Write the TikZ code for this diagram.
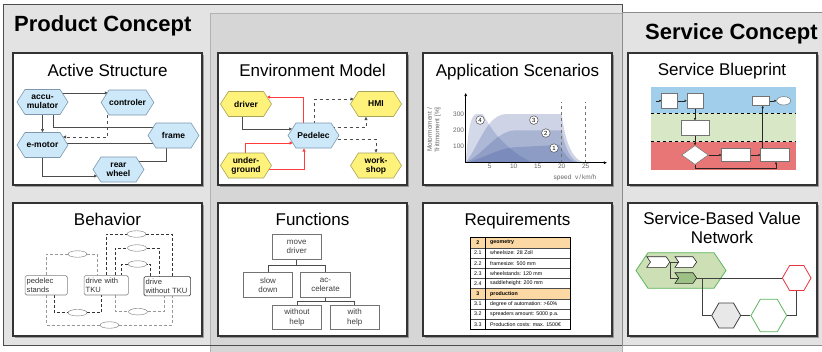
\documentclass[tikz,border=0pt]{standalone}
\usepackage{fontspec}
\setmainfont{Liberation Sans}
\usetikzlibrary{arrows.meta,calc,shapes.symbols,shapes.geometric,shadows}

\pgfdeclarelayer{background}
\pgfdeclarelayer{links}
\pgfsetlayers{background,links,main}

\newcommand{\fsz}[2]{\fontsize{#1}{#2}\selectfont}

\definecolor{panelgray}{HTML}{E3E3E3}
\definecolor{midgray}{HTML}{D6D6D6}
\definecolor{hexblue}{HTML}{CDE8F8}
\definecolor{hexblueline}{HTML}{7D98AE}
\definecolor{hexyellow}{HTML}{FFF27A}
\definecolor{hexyellowline}{HTML}{A6A45A}
\definecolor{linkred}{HTML}{FF3B3B}
\definecolor{bandblue}{HTML}{A0CEEB}
\definecolor{bandgreen}{HTML}{D8E7C6}
\definecolor{bandred}{HTML}{E87676}
\definecolor{scenblue}{HTML}{3C559E}
\definecolor{reqorange}{HTML}{FCD9A4}
\definecolor{netgreen}{HTML}{5DB65D}
\definecolor{netfill}{HTML}{CDE0B5}
\definecolor{netdark}{HTML}{9DC184}
\definecolor{netred}{HTML}{E8343F}

\tikzset{
  card/.style={draw=black!80, fill=white, line width=1.1pt,
    drop shadow={shadow xshift=1.5pt, shadow yshift=-1.5pt, opacity=.4, fill=black!80}},
  cardtitle/.style={anchor=base, inner sep=0pt, font=\fsz{17}{20}},
  hexa/.style={signal, signal to=east and west, signal pointer angle=115,
    minimum width=51pt, minimum height=25pt, inner sep=0pt, line width=.6pt,
    align=center, font=\bfseries\fsz{8.5}{9}},
  hexb/.style={hexa, fill=hexblue, draw=hexblueline},
  hexy/.style={hexa, fill=hexyellow, draw=hexyellowline},
  link/.style={draw=black!70, line width=.55pt},
  redlink/.style={draw=linkred, line width=.7pt},
  tohead/.style={-{Triangle[length=3.2pt, width=3pt]}},
  scenno/.style={circle, draw=black!70, fill=white, line width=.5pt, inner sep=0pt,
    minimum size=8.6pt, font=\fsz{6}{6}},
  ticklabel/.style={font=\fsz{6.5}{7}, text=black!60, inner sep=1.5pt},
  bpbox/.style={draw=black!55, fill=white, line width=.5pt, inner sep=0pt},
  bparrow/.style={draw=black!85, line width=.45pt, -{Triangle[length=2.2pt, width=2.2pt]}},
  bstate/.style={draw=black!50, fill=white, rounded corners=1.5pt, line width=.6pt,
    align=left, inner xsep=1.6pt, inner ysep=1pt, minimum height=19.3pt,
    font=\fsz{7.6}{8.8}, text=black!80},
  guard/.style={ellipse, draw=black!55, fill=white, line width=.4pt, inner sep=0pt,
    minimum width=19pt, minimum height=6.5pt},
  trans/.style={dash pattern=on 3pt off 2pt, line width=.6pt},
  fbox/.style={draw=black!55, fill=white, line width=.6pt, inner sep=0pt,
    minimum width=49.5pt, minimum height=24.5pt, align=center,
    font=\fsz{8}{9.5}, text=black!75},
  reqcell/.style={inner sep=0pt, font=\fsz{5.3}{6}},
  nethex/.style={signal, signal to=east and west, signal pointer angle=120,
    inner sep=0pt, line width=.8pt},
  chevron/.style={signal, signal to=east, signal from=west, signal pointer angle=110,
    draw=black!85, line width=.6pt, inner sep=0pt, minimum width=23pt, minimum height=10.6pt},
  netlink/.style={draw=black!75, line width=.7pt}
}

\begin{document}
\begin{tikzpicture}[x=1pt,y=-1pt]
\useasboundingbox (0,0) rectangle (822,351);

\begin{pgfonlayer}{background}
% concept panels
\fill[panelgray] (3.5,4) rectangle (622,345);
\draw[fill=midgray, draw=black!30, line width=.6pt] (210,13) rectangle (622,353);
\draw[black!70, line width=.8pt] (3.5,4) rectangle (622,345);
\draw[fill=panelgray, draw=black!45, line width=.6pt] (622,12) rectangle (824,345);
% white cards
\foreach \cx in {13,218,423,628}{
  \draw[card] (\cx,53) rectangle ++(189,132);
  \draw[card] (\cx,203) rectangle ++(189,133);
}
% blueprint lanes
\fill[bandblue] (650.7,87.3) rectangle (795.7,113.3);
\fill[bandgreen] (650.7,113.3) rectangle (795.7,141.7);
\fill[bandred] (650.7,141.7) rectangle (795.7,170);
\draw[dashed, line width=.6pt] (650.7,113.3) -- (795.7,113.3);
\draw[dashed, line width=.6pt] (650.7,141.7) -- (795.7,141.7);
% value network cluster
\node[nethex, fill=netfill, draw=netgreen, signal pointer angle=112,
  minimum width=90pt, minimum height=35.6pt] (vn) at (681,270.5) {};
\end{pgfonlayer}

\node[anchor=base west, inner sep=0pt, font=\bfseries\fsz{22}{26}] (product) at (14,31) {Product Concept};
\node[anchor=base west, inner sep=0pt, font=\bfseries\fsz{22}{26}] (service) at (645,39) {Service Concept};

\node[cardtitle] (as-title) at (107.5,76) {Active Structure};
\node[cardtitle] (em-title) at (312.5,76) {Environment Model};
\node[cardtitle] (sc-title) at (517.5,76) {Application Scenarios};
\node[cardtitle] (bp-title) at (722,75) {Service Blueprint};
\node[cardtitle] (bh-title) at (107.5,225) {Behavior};
\node[cardtitle] (fn-title) at (312.5,225) {Functions};
\node[cardtitle] (rq-title) at (517.5,225) {Requirements};
\node[cardtitle] (vn-title-a) at (722,224) {Service-Based Value};
\node[cardtitle] (vn-title-b) at (722,243) {Network};

% active structure
\node[hexb] (accu) at (42.5,102) {accu-\\mulator};
\node[hexb] (ctrl) at (127.5,102.5) {controler};
\node[hexb] (emotor) at (42.5,145) {e-motor};
\node[hexb] (frame) at (173.5,135.5) {frame};
\node[hexb] (rear) at (118.5,169.5) {rear\\wheel};

% environment model
\node[hexy] (driver) at (246,104) {driver};
\node[hexy] (hmi) at (376,104) {HMI};
\node[hexb] (pedelec) at (313.5,135.5) {Pedelec};
\node[hexy] (ground) at (246,165.5) {under-\\ground};
\node[hexy] (shop) at (376,165.5) {work-\\shop};

\begin{pgfonlayer}{links}
\draw[link,tohead] ($(accu)+(0,-9)$) -- ($(ctrl)+(-19.5,-9.5)$);
\draw[link,tohead] (accu.south) -- (emotor.north);
\draw[link] ($(accu)+(10.5,0)$) |- ($(frame)+(0,-8.5)$);
\draw[link,dashed,tohead] ($(ctrl)+(-20.5,0)$) |- ($(emotor)+(20.4,-8)$);
\draw[link] ($(emotor)+(0,-2)$) -- ($(frame)+(0,7.5)$);
\draw[link,tohead] (emotor.south) |- ($(rear)+(-21.3,6.5)$);
\draw[link] ($(frame)+(-7.5,0)$) |- ($(rear)+(0,-8.5)$);

\draw[redlink,tohead] ($(pedelec)+(-10.5,0)$) |- ($(driver)+(21,-7)$);
\draw[link,tohead] ($(driver)+(-4,0)$) |- ($(pedelec)+(-21.3,-6.5)$);
\draw[link,dashed,tohead] ($(pedelec)+(0.5,0)$) |- ($(hmi)+(-22.3,-5)$);
\draw[link,dashed,tohead] ($(pedelec)+(0,-8.5)$) -| ($(hmi.south)+(-10,0)$);
\draw[redlink,tohead] ($(ground)+(-1,0)$) |- ($(pedelec)+(-20.7,7.5)$);
\draw[redlink,tohead] ($(ground)+(0,3.5)$) -| ($(pedelec.south)+(-9.5,0)$);
\draw[link,dashed,tohead] ($(pedelec)+(0,3.5)$) -| (shop.north);
\end{pgfonlayer}

% application scenarios
\begin{scope}[shift={(465.7,162.7)}, x=4.8pt, y=.162pt]
  \fill[scenblue, fill opacity=.25] (0,0) .. controls (3,120) and (4.5,300) .. (8.5,300)
    -- (20,300) .. controls (20.6,150) and (22,10) .. (25,0) -- cycle;
  \fill[scenblue, fill opacity=.25] (0,0) .. controls (4,60) and (6.5,200) .. (10.5,200)
    -- (20,200) .. controls (20.6,100) and (21.8,5) .. (24,0) -- cycle;
  \fill[scenblue, fill opacity=.25] (0,0) .. controls (4,30) and (7,90) .. (10,95)
    -- (19.5,110) .. controls (20.6,60) and (21.5,3) .. (23.4,0) -- cycle;
  \fill[scenblue, fill opacity=.22] (0,0) .. controls (.6,240) and (1.2,300) .. (2.3,300)
    -- (3.6,300) .. controls (5,220) and (8,80) .. (14,0) -- cycle;
  \draw[black!55, dashed, line width=.6pt] (20,0) -- (20,375);
  \draw[black!55, dashed, line width=.6pt] (25,0) -- (25,375);
  \draw[line width=.6pt, -{Triangle[length=3pt, width=2.6pt]}] (0,0) -- (29.4,0);
  \draw[line width=.6pt, -{Triangle[length=3pt, width=2.6pt]}] (0,0) -- (0,430);
  \foreach \v in {5,10,15,20,25}
    \node[ticklabel, anchor=north] (x\v) at (\v,0) {\v};
  \foreach \v in {100,200,300}
    \node[ticklabel, anchor=east] (y\v) at (0,\v) {\v};
  \foreach \n/\px/\py in {4/3/263, 3/14.2/263, 2/16.7/183, 1/18.4/90}
    \node[scenno] (sc\n) at (\px,\py) {\n};
\end{scope}
\node[rotate=90, align=center, font=\fsz{6.5}{7.5}, text=black!60] (ylab) at (434,130) {Motormoment /\\Trittmoment [\%]};
\node[font=\fsz{6.5}{7}, text=black!60] (xlab) at (575,178) {speed\ \ v\,/\,km/h};

% service blueprint
\node[bpbox, minimum width=15.6pt, minimum height=15pt] (bp1) at (669.5,100.8) {};
\node[bpbox, minimum width=16pt, minimum height=15pt] (bp2) at (695,100.8) {};
\node[bpbox, minimum width=17pt, minimum height=9.5pt] (bp3) at (760.8,100.8) {};
\node[bpbox, ellipse, minimum width=14pt, minimum height=8.4pt] (bpend) at (783.7,100.8) {};
\node[bpbox, minimum width=28.3pt, minimum height=14.3pt] (bp4) at (695,127.8) {};
\node[bpbox, diamond, minimum width=26.6pt, minimum height=19pt] (bpdec) at (695,155) {};
\node[bpbox, minimum width=29pt, minimum height=13.4pt] (bp5) at (736.2,155) {};
\node[bpbox, minimum width=28.6pt, minimum height=13.4pt] (bp6) at (775,155) {};
\coordinate (bpstart) at (656,100.8);
\begin{pgfonlayer}{links}
\draw[bparrow] (bpstart) -- (bp1);
\draw[bparrow] (bp1) -- (bp2);
\draw[bparrow] (bp2) -- (bp4);
\draw[bparrow] (bp4) -- (bpdec);
\draw[bparrow] (bpdec) -- (bp5);
\draw[bparrow] (bp5) -- (bp6);
\draw[bparrow] ($(bp6.north)+(-12.3,0)$) coordinate (bpup) -- (bpup |- bp3.south);
\draw[bparrow] (bp3) -- (bpend);
\draw[bparrow] (bpdec.south) -- ++(0,3) -| ($(bp6.south)+(1,0)$);
\end{pgfonlayer}

% behavior
\node[bstate, text width=39pt] (stand) at (46.2,285.3) {pedelec\\stands};
\node[bstate, text width=41pt] (withtku) at (106.2,285.3) {drive with\\TKU};
\node[bstate, text width=43.5pt, draw=black!80] (notku) at (167.3,286.2) {drive\\without TKU};
\node[guard] (g1) at (77.5,254) {};
\node[guard] (g2) at (136.5,234) {};
\node[guard] (g3) at (137,248) {};
\node[guard] (g4) at (137.5,264) {};
\node[guard] (g5) at (77.5,312.7) {};
\node[guard] (g6) at (109.5,325) {};
\node[guard] (g7) at (138,311.7) {};
\begin{pgfonlayer}{links}
\draw[trans, black!40] ($(stand.north)+(0.5,0)$) |- (g1) -| ($(withtku.north)+(-8.5,0)$);
\draw[trans, black!80] (withtku.north) |- (g2) -| ($(notku.north)+(5,0)$);
\draw[trans, black!80] ($(withtku.north)+(9,0)$) |- (g3) -| ($(notku.north)+(-8.3,0)$);
\draw[trans, black!80] ($(notku.north)+(-17.3,0)$) |- (g4) -| ($(withtku.north)+(15.5,0)$);
\draw[trans, black!80] ($(stand.south)+(7.8,0)$) |- (g5) -| ($(withtku.south)+(-4.5,0)$);
\draw[trans, black!40] ($(stand.south)+(0.5,0)$) |- (g6) -| ($(notku.south)+(5,0)$);
\draw[trans, black!40] ($(withtku.south)+(9,0)$) |- (g7) -| ($(notku.south)+(-3.3,0)$);
\end{pgfonlayer}

% functions
\node[fbox] (move) at (296.7,247) {move\\driver};
\node[fbox] (slow) at (268,285) {slow\\down};
\node[fbox] (accel) at (325.5,285) {ac-\\celerate};
\node[fbox] (nohelp) at (297,317.2) {without\\help};
\node[fbox] (help) at (354.7,317.2) {with\\help};
\begin{pgfonlayer}{links}
\draw[link] (move.south) -- ++(0,6) -| (slow.north);
\draw[link] (move.south) -- ++(0,6) -| (accel.north);
\draw[link] (accel.south) -- ++(0,4) -| (nohelp.north);
\draw[link] (accel.south) -- ++(0,4) -| (help.north);
\end{pgfonlayer}

% requirements
\fill[reqorange] (470,237.7) rectangle (570,247.88);
\fill[reqorange] (470,288.6) rectangle (570,298.78);
\foreach \i in {1,...,8}
  \draw[black!70, line width=.4pt] (470,{237.7+10.18*\i}) -- (570,{237.7+10.18*\i});
\draw[line width=.7pt] (470,237.7) rectangle (570,329.3);
\draw[line width=1.1pt] (485.7,237.7) -- (485.7,329.3);
\foreach \num/\txt [count=\i] in {\textbf{2}/\textbf{geometry},
    2.1/wheelsize: 28 Zoll, 2.2/framesize: 500 mm, 2.3/wheelstands: 120 mm,
    2.4/saddleheight: 200 mm, \textbf{3}/\textbf{production},
    3.1/degree of automation: >60\%, 3.2/spreaders amount: 5000 p.a.,
    3.3/Production costs: max. 1500€}{
  \node[reqcell] (rn\i) at (477.8,{232.61+10.18*\i}) {\num};
  \node[reqcell, anchor=west] (rt\i) at (490,{232.61+10.18*\i}) {\txt};
}

% value network
\node[chevron, fill=white] (ch1) at (658.3,262) {};
\node[chevron, fill=white, minimum width=21.7pt] (ch2) at (685.8,262) {};
\node[chevron, fill=netdark, minimum width=21.7pt] (ch3) at (685.8,278) {};
\node[nethex, fill=white, draw=netred, minimum width=28.7pt, minimum height=25pt] (vred) at (796.7,278) {};
\node[nethex, fill=black!9, draw=black!75, minimum width=29pt, minimum height=25pt] (vgray) at (726.2,315.5) {};
\node[nethex, fill=white, draw=netgreen, minimum width=35.7pt, minimum height=32.4pt] (vgreen) at (768.8,315.5) {};
\begin{pgfonlayer}{links}
\draw[netlink] (ch1) -- (ch2);
\draw[netlink] (ch1.east) |- (ch3);
\draw[netlink] (ch3) -- (vred);
\draw[netlink] ($(ch3.east)+(5,0)$) |- (vgray);
\draw[netlink] (vgray) -- (vgreen);
\draw[netlink] (vgreen) -| (vred);
\end{pgfonlayer}
\end{tikzpicture}
\end{document}
